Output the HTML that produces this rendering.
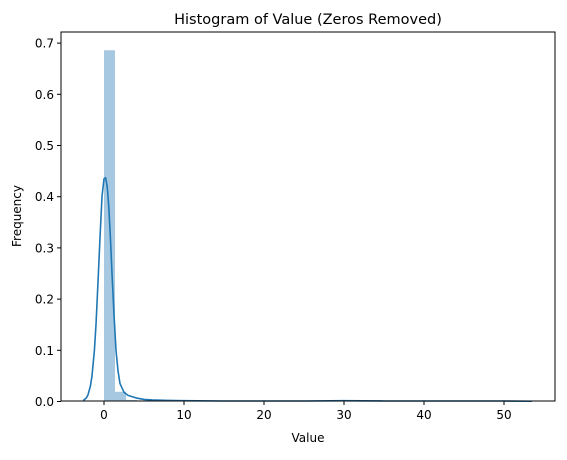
<!DOCTYPE html>
<html><head><meta charset="utf-8"><style>
body{margin:0;background:#fff;font-family:"Liberation Sans","DejaVu Sans",sans-serif;}
svg text{font-family:"DejaVu Sans","Liberation Sans",sans-serif;fill:#000;}
</style></head><body>
<svg id="chart" width="567" height="455" xmlns="http://www.w3.org/2000/svg">
<rect width="567" height="455" fill="#fff"/>
<g id="bars"></g>
<g id="kde"></g>
<rect x="61" y="32" width="494" height="369" fill="none" stroke="#000" stroke-width="1"/>
<g id="xticks"></g>
<g id="yticks"></g>
<text x="308" y="24" font-size="14.5" text-anchor="middle">Histogram of Value (Zeros Removed)</text>
<text x="308" y="442" font-size="12" text-anchor="middle">Value</text>
<text x="21" y="216" font-size="12" text-anchor="middle" transform="rotate(-90 21 216)">Frequency</text>
</svg>
<script>
const binStart = 0;
const binWidth = 1.375;
const binValues = [0.686, 0.019, 0.003, 0.002, 0.001, 0.001, 0.001, 0.0005, 0.0005, 0.0005, 0.0005, 0.0005, 0.0005, 0.0005, 0.0005, 0.0005, 0.0005, 0.0005, 0.0005, 0.0005, 0.0005, 0.0005, 0.0005, 0.0005, 0.0005, 0.0005, 0.0005, 0.0005, 0.0005, 0.0005, 0.0005, 0.0005, 0.0005, 0.0005, 0.0005, 0.0005, 0.0005, 0.0005];
const kdeX = [-2.6, -2.2, -2, -1.7, -1.5, -1.2, -1, -0.7, -0.5, -0.25, 0, 0.2, 0.4, 0.6, 0.8, 1, 1.25, 1.5, 1.75, 2, 2.5, 3, 4, 5, 6, 8, 10, 15, 20, 25, 30, 35, 40, 45, 50, 53.5];
const kdeY = [0.002, 0.007, 0.013, 0.03, 0.05, 0.1, 0.15, 0.25, 0.32, 0.4, 0.435, 0.437, 0.42, 0.38, 0.32, 0.25, 0.17, 0.1, 0.06, 0.035, 0.018, 0.012, 0.007, 0.004, 0.003, 0.002, 0.0015, 0.001, 0.001, 0.001, 0.0015, 0.001, 0.001, 0.001, 0.001, 0.0005];
const xTicks = [0, 10, 20, 30, 40, 50];
const yTicks = [0.0, 0.1, 0.2, 0.3, 0.4, 0.5, 0.6, 0.7];
const NS = "http://www.w3.org/2000/svg";
function xs(v){return 104 + v*8;}
function ys(v){return 401.5 - v*512;}
const bars = document.getElementById('bars');
binValues.forEach((v,i)=>{
  const r = document.createElementNS(NS,'rect');
  const x0 = xs(binStart + i*binWidth), x1 = xs(binStart + (i+1)*binWidth);
  r.setAttribute('x', x0); r.setAttribute('width', x1-x0);
  r.setAttribute('y', ys(v)); r.setAttribute('height', ys(0)-ys(v));
  r.setAttribute('fill', '#a6c8e0');
  
  
  bars.appendChild(r);
});
const kde = document.getElementById('kde');
const pl = document.createElementNS(NS,'polyline');
pl.setAttribute('points', kdeX.map((x,i)=>xs(x)+','+ys(kdeY[i])).join(' '));
pl.setAttribute('fill','none'); pl.setAttribute('stroke','#1f77b4'); pl.setAttribute('stroke-width','1.6');
pl.setAttribute('stroke-linejoin','round');


kde.appendChild(pl);
const xg = document.getElementById('xticks');
xTicks.forEach(t=>{
  const l = document.createElementNS(NS,'line');
  l.setAttribute('x1',xs(t)); l.setAttribute('x2',xs(t)); l.setAttribute('y1',401); l.setAttribute('y2',405);
  l.setAttribute('stroke','#000');
  
  
  xg.appendChild(l);
  const tx = document.createElementNS(NS,'text');
  tx.setAttribute('x',xs(t)); tx.setAttribute('y',419); tx.setAttribute('font-size','12'); tx.setAttribute('text-anchor','middle');
  tx.textContent = t;
  
  
  xg.appendChild(tx);
});
const yg = document.getElementById('yticks');
yTicks.forEach(t=>{
  const l = document.createElementNS(NS,'line');
  l.setAttribute('x1',57); l.setAttribute('x2',61); l.setAttribute('y1',ys(t)); l.setAttribute('y2',ys(t));
  l.setAttribute('stroke','#000');
  
  
  yg.appendChild(l);
  const tx = document.createElementNS(NS,'text');
  tx.setAttribute('x',54); tx.setAttribute('y',ys(t)+4.5); tx.setAttribute('font-size','12'); tx.setAttribute('text-anchor','end');
  tx.textContent = t.toFixed(1);
  
  
  yg.appendChild(tx);
});
</script>
</body></html>
